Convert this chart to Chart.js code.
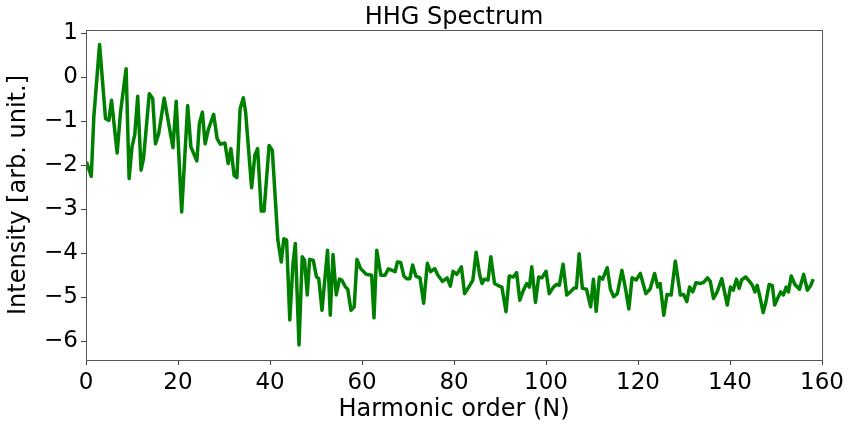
<!DOCTYPE html>
<html>
<head>
<meta charset="utf-8">
<script src="https://cdn.jsdelivr.net/npm/chart.js@4/dist/chart.umd.min.js"></script>
<style>
    html, body { margin: 0; padding: 0; background: #fff; }
    #hhgChart { display: block; }
</style>
</head>
<body>
<canvas id="hhgChart" width="848" height="428"></canvas>
<script>
const harmonicOrder = [
    0.1, 1.15, 1.7, 2.95, 4.25, 4.97, 5.55, 6.77, 7.5, 8.72, 9.37, 10.0, 10.6, 11.24, 11.97, 12.5,
    13.76, 14.5, 15.1, 15.8, 17.0, 18.9, 19.6, 20.8, 22.1, 22.8, 24.1, 24.65, 25.3, 25.9, 26.6, 27.75,
    28.5, 29.2, 30.2, 30.9, 31.5, 32.2, 32.8, 33.5, 34.2, 34.7, 36.0, 36.7, 37.3, 38.1, 38.7, 39.8,
    40.5, 41.7, 42.45, 43.0, 43.6, 44.3, 45.0, 45.5, 46.3, 47.0, 47.5, 48.1, 48.6, 49.4, 50.1, 50.6,
    51.3, 52.5, 53.1, 53.7, 54.4, 55.1, 55.6, 56.4, 56.9, 57.6, 58.3, 58.9, 59.7, 60.9, 62.1, 62.6,
    63.2, 64.1, 65.0, 65.7, 66.6, 67.2, 67.7, 68.4, 69.1, 69.7, 70.4, 71.0, 71.7, 72.6, 73.4, 74.2,
    74.9, 75.8, 76.5, 77.5, 78.5, 79.2, 79.8, 80.6, 81.6, 82.3, 83.2, 84.1, 84.8, 85.6, 86.1, 86.6,
    87.4, 88.0, 88.8, 89.5, 90.4, 91.3, 92.0, 92.9, 93.6, 94.3, 95.1, 95.8, 96.4, 96.9, 97.7, 98.4,
    99.1, 100.0, 100.7, 101.6, 102.3, 102.9, 103.7, 104.5, 105.3, 106.1, 106.6, 107.2, 107.9, 108.8, 109.7, 110.3,
    110.9, 111.6, 112.3, 113.3, 114.0, 114.7, 115.5, 116.5, 117.3, 118.0, 118.7, 119.6, 120.5, 121.7, 122.6, 123.6,
    124.3, 124.8, 125.6, 126.3, 127.2, 128.1, 129.2, 129.9, 130.6, 131.2, 131.9, 132.6, 133.5, 134.2, 135.1, 135.7,
    136.4, 137.2, 138.2, 139.4, 140.1, 140.7, 141.4, 142.0, 142.5, 143.4, 144.3, 144.9, 145.4, 145.9, 146.5, 147.2,
    147.8, 148.5, 149.2, 149.7, 150.5, 151.0, 151.6, 152.2, 152.7, 153.3, 154.1, 155.1, 156.0, 156.8, 157.5, 158.1
];

const intensity = [
    -1.92, -2.25, -0.90, 0.75, -0.94, -0.98, -0.52, -1.72, -0.79, 0.20, -2.30, -1.58, -1.30, -0.43, -2.11, -1.85,
    -0.37, -0.48, -1.51, -1.28, -0.47, -1.60, -0.54, -3.06, -0.64, -1.58, -1.90, -1.05, -0.79, -1.51, -1.18, -0.84,
    -1.39, -1.52, -1.49, -1.96, -1.62, -2.23, -2.28, -0.71, -0.46, -0.79, -2.51, -1.77, -1.62, -3.04, -3.04, -1.55,
    -1.66, -3.70, -4.20, -3.67, -3.70, -5.52, -4.23, -3.78, -6.09, -4.08, -4.16, -4.95, -4.14, -4.16, -4.54, -4.58,
    -5.30, -3.93, -5.41, -4.03, -4.95, -4.59, -4.61, -4.77, -4.82, -5.30, -5.22, -4.14, -4.35, -4.48, -4.50, -5.47,
    -3.93, -4.50, -4.50, -4.36, -4.39, -4.42, -4.20, -4.21, -4.52, -4.58, -4.58, -4.27, -4.52, -4.56, -5.14, -4.23,
    -4.42, -4.35, -4.50, -4.64, -4.56, -4.75, -4.41, -4.48, -4.31, -4.92, -4.77, -4.61, -3.98, -4.50, -4.69, -4.59,
    -4.61, -4.08, -4.69, -4.73, -4.77, -5.33, -4.52, -4.54, -4.44, -5.07, -4.84, -4.69, -4.77, -4.31, -5.12, -4.54,
    -4.56, -4.41, -4.92, -4.77, -4.71, -4.73, -4.25, -4.95, -4.88, -4.79, -4.79, -4.01, -4.80, -4.82, -5.22, -4.59,
    -5.32, -4.54, -4.59, -4.33, -4.82, -4.99, -4.92, -4.39, -4.82, -5.27, -4.56, -4.61, -4.46, -4.92, -4.82, -4.46,
    -4.77, -4.69, -5.41, -4.94, -4.95, -4.18, -4.95, -4.94, -5.10, -4.77, -4.88, -4.67, -4.69, -4.67, -4.56, -4.64,
    -5.03, -4.88, -4.58, -5.18, -4.77, -4.84, -4.59, -4.80, -4.61, -4.54, -4.65, -4.74, -4.88, -4.73, -4.99, -5.35,
    -5.11, -4.71, -4.74, -5.18, -4.99, -4.88, -4.95, -4.77, -4.88, -4.52, -4.71, -4.82, -4.48, -4.84, -4.74, -4.59
];

const xTicks = [0, 20, 40, 60, 80, 100, 120, 140, 160];
const yTicks = [-6, -5, -4, -3, -2, -1, 0, 1];
const chartTitle = 'HHG Spectrum';

const FONT = "'DejaVu Sans', sans-serif";

// matplotlib style: unicode minus and a full frame round the axes
const fmt = v => String(v).replace('-', '\u2212');

const frame = {
    id: 'frame',
    afterDatasetsDraw(chart) {
        const a = chart.chartArea;
        const ctx = chart.ctx;
        ctx.save();
        ctx.strokeStyle = '#555';
        ctx.lineWidth = 1;
        ctx.strokeRect(a.left + 0.5, a.top + 0.5, a.right - a.left, a.bottom - a.top);
        ctx.restore();
    }
};

// title centred over the plot area, not the whole canvas
const axesTitle = {
    id: 'axesTitle',
    afterDraw(chart) {
        const a = chart.chartArea;
        const ctx = chart.ctx;
        ctx.save();
        ctx.fillStyle = '#000';
        ctx.font = '24px ' + FONT;
        ctx.textAlign = 'center';
        ctx.textBaseline = 'alphabetic';
        ctx.fillText(chartTitle, (a.left + a.right) / 2, a.top - 6);
        ctx.restore();
    }
};

const points = harmonicOrder.map((h, i) => ({ x: h, y: intensity[i] }));

new Chart(document.getElementById('hhgChart').getContext('2d'), {
    type: 'line',
    data: {
        datasets: [{
            data: points,
            borderColor: '#008000',
            borderWidth: 3.5,
            borderJoinStyle: 'round',
            pointRadius: 0,
            tension: 0,
            fill: false
        }]
    },
    options: {
        responsive: false,
        animation: false,
        layout: { padding: { left: 0, right: 22, top: 30, bottom: 0 } },
        plugins: {
            legend: { display: false },
            tooltip: { enabled: false },
            title: { display: false }
        },
        scales: {
            x: {
                type: 'linear',
                min: 0,
                max: 160,
                afterBuildTicks: s => { s.ticks = xTicks.map(v => ({ value: v })); },
                afterFit: s => { s.height = 68; },
                grid: { drawOnChartArea: false, tickLength: 5, color: '#444' },
                border: { display: false },
                ticks: {
                    color: '#000',
                    padding: 4,
                    maxRotation: 0,
                    font: { family: FONT, size: 23 },
                    callback: v => fmt(v)
                },
                title: {
                    display: true,
                    text: 'Harmonic order (N)',
                    color: '#000',
                    font: { family: FONT, size: 24 },
                    padding: { top: 2, bottom: 4 }
                }
            },
            y: {
                type: 'linear',
                min: -6.43,
                max: 1.08,
                afterBuildTicks: s => { s.ticks = yTicks.map(v => ({ value: v })); },
                afterFit: s => { s.width = 86; },
                grid: { drawOnChartArea: false, tickLength: 5, color: '#444' },
                border: { display: false },
                ticks: {
                    color: '#000',
                    padding: 3,
                    font: { family: FONT, size: 23 },
                    callback: v => fmt(v)
                },
                title: {
                    display: true,
                    text: 'Intensity [arb. unit.]',
                    color: '#000',
                    font: { family: FONT, size: 24 },
                    padding: { top: 4, bottom: 4 }
                }
            }
        }
    },
    plugins: [frame, axesTitle]
});
</script>
</body>
</html>
